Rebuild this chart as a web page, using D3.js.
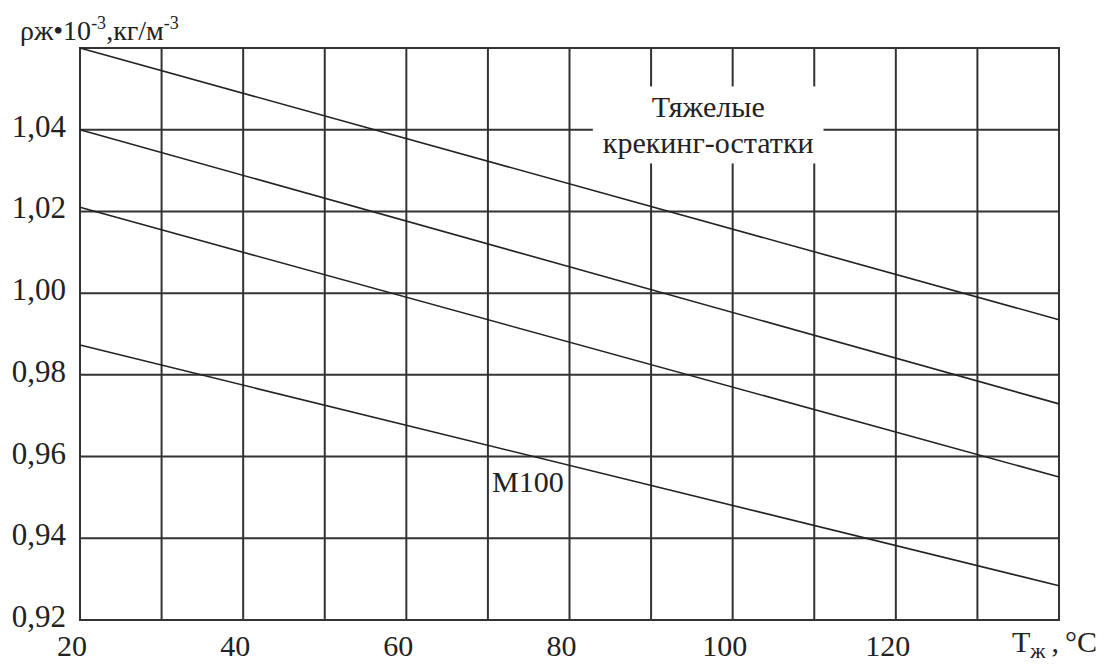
<!DOCTYPE html>
<html>
<head>
<meta charset="utf-8">
<script src="https://cdn.jsdelivr.net/npm/d3@7"></script>
<style>
  html, body { margin: 0; padding: 0; background: #fff; }
  svg { display: block; font-family: "Liberation Serif", "Times New Roman", serif; }
</style>
</head>
<body>
<div id="chart"></div>
<script>
// density of liquid fuels vs temperature
const temps = [20, 140];
const crackingA = [1.060, 0.9935];
const crackingB = [1.040, 0.9729];
const crackingC = [1.021, 0.955];
const m100 = [0.9873, 0.9284];

const xTicks = [20, 40, 60, 80, 100, 120];
const yTicks = [0.92, 0.94, 0.96, 0.98, 1.00, 1.02, 1.04];

const labelHeavy = ["Тяжелые", "крекинг-остатки"];
const labelM100 = "M100";

const W = 1104, H = 664;
const margin = {top: 48, right: 45, bottom: 44, left: 80};
const width = W - margin.left - margin.right,
      height = H - margin.top - margin.bottom;

const svg = d3.select("#chart").append("svg")
    .attr("width", W).attr("height", H);

const x = d3.scaleLinear().domain([20, 140]).range([margin.left, margin.left + width]);
const y = d3.scaleLinear().domain([0.92, 1.06]).range([margin.top + height, margin.top]);

const ink = "#333";
const fmt = d3.formatLocale({decimal: ",", thousands: " ", grouping: [3], currency: ["", ""]}).format(".2f");

// grid
const grid = svg.append("g").attr("stroke", ink).attr("stroke-width", 2);
grid.selectAll("line.v")
  .data(x.ticks(12))
  .enter().append("line")
    .attr("x1", d => x(d)).attr("x2", d => x(d))
    .attr("y1", y.range()[0]).attr("y2", y.range()[1]);
grid.selectAll("line.h")
  .data(y.ticks(7))
  .enter().append("line")
    .attr("x1", x.range()[0]).attr("x2", x.range()[1])
    .attr("y1", d => y(d)).attr("y2", d => y(d));
svg.append("rect")
    .attr("x", x.range()[0]).attr("y", y.range()[1])
    .attr("width", width).attr("height", height)
    .attr("fill", "none").attr("stroke", ink).attr("stroke-width", 2);

// curves
const series = [crackingA, crackingB, crackingC, m100];
const line = d3.line().x((d, i) => x(temps[i])).y(d => y(d));
svg.append("g").selectAll("path")
  .data(series)
  .enter().append("path")
    .attr("d", d => line(d))
    .attr("fill", "none")
    .attr("stroke", "#222")
    .attr("stroke-width", 1.6);

// tick labels
svg.append("g").selectAll("text")
  .data(yTicks)
  .enter().append("text")
    .attr("x", margin.left - 14)
    .attr("y", d => y(d) + 7)
    .attr("text-anchor", "end")
    .attr("font-size", 31)
    .attr("fill", "#222")
    .text(d => fmt(d));

svg.append("g").selectAll("text")
  .data(xTicks)
  .enter().append("text")
    .attr("x", d => x(d) - 8)
    .attr("y", H - 8)
    .attr("text-anchor", "middle")
    .attr("font-size", 30)
    .attr("fill", "#222")
    .text(d => d);

// axis titles
const yt = svg.append("text")
    .attr("x", 20).attr("y", 40)
    .attr("font-size", 28)
    .attr("fill", "#222");
yt.append("tspan").text("ρж•10");
yt.append("tspan").attr("dy", -11).attr("font-size", 18).text("-3");
yt.append("tspan").attr("dy", 11).text(",кг/м");
yt.append("tspan").attr("dy", -11).attr("font-size", 18).text("-3");

const xt = svg.append("text")
    .attr("x", W - 7).attr("y", H - 12)
    .attr("text-anchor", "end")
    .attr("font-size", 30)
    .attr("fill", "#222");
xt.append("tspan").text("T");
xt.append("tspan").attr("dy", 6).attr("font-size", 22).text("ж");
xt.append("tspan").attr("dy", -6).text("\u2009,\u2009°C");

// curve labels
const heavy = svg.append("g");
const heavyText = heavy.append("text")
    .attr("text-anchor", "middle")
    .attr("font-size", 30)
    .attr("fill", "#222");
heavyText.selectAll("tspan")
  .data(labelHeavy)
  .enter().append("tspan")
    .attr("x", x(97))
    .attr("y", (d, i) => y(1.0430) + i * 36)
    .text(d => d);
const bb = heavyText.node().getBBox();
heavy.insert("rect", "text")
    .attr("x", bb.x - 10).attr("y", bb.y - 4)
    .attr("width", bb.width + 20).attr("height", bb.height + 8)
    .attr("fill", "#fff");

svg.append("text")
    .attr("x", x(70.5)).attr("y", y(0.9513))
    .attr("font-size", 30)
    .attr("fill", "#222")
    .text(labelM100);
</script>
</body>
</html>
